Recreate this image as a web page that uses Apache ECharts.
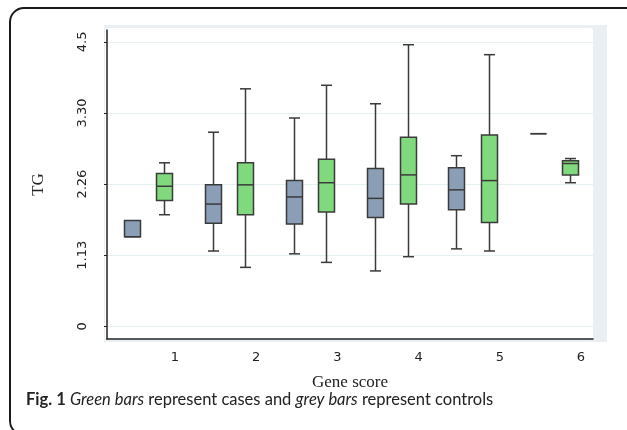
<!DOCTYPE html>
<html>
<head>
<meta charset="utf-8">
<script src="https://cdn.jsdelivr.net/npm/echarts@6/dist/echarts.min.js"></script>
<style>
html,body{margin:0;padding:0;background:#fff;}
#c{width:627px;height:430px;}
</style>
</head>
<body>
<div id="c"></div>
<script>
// Gene score categories (x tick labels)
const scores = [1, 2, 3, 4, 5, 6];
// Y axis: equally spaced ticks (positions 0..4) carrying these labels
const yTickPos = [0, 1, 2, 3, 4];
const yTickLabels = ['0', '1.13', '2.26', '3.30', '4.5'];
// Box values in y-axis units: [min, q1, median, q3, max]
const controls = [
  [1.26, 1.26, 1.26, 1.49, 1.49],
  [1.06, 1.45, 1.72, 1.99, 2.73],
  [1.02, 1.44, 1.82, 2.05, 2.93],
  [0.78, 1.53, 1.80, 2.22, 3.13],
  [1.09, 1.64, 1.92, 2.23, 2.40],
  [2.71, 2.71, 2.71, 2.71, 2.71]
];
const cases = [
  [1.57, 1.77, 1.97, 2.15, 2.30],
  [0.83, 1.57, 1.99, 2.30, 3.34],
  [0.90, 1.61, 2.02, 2.35, 3.39],
  [0.98, 1.72, 2.13, 2.66, 3.96],
  [1.06, 1.46, 2.05, 2.69, 3.82],
  [2.02, 2.13, 2.29, 2.33, 2.36]
];

const GREY_OFF = -0.535, GREEN_OFF = -0.135;
const BOX_W = 16, CAP_W = 11, STROKE = '#3a3a3a';

function boxData(arr, off) {
  return arr.map((v, i) => [scores[i] + off].concat(v));
}

function renderBox(params, api) {
  const x = api.value(0);
  const pMin = api.coord([x, api.value(1)]);
  const pQ1 = api.coord([x, api.value(2)]);
  const pMed = api.coord([x, api.value(3)]);
  const pQ3 = api.coord([x, api.value(4)]);
  const pMax = api.coord([x, api.value(5)]);
  const cx = Math.round(pMed[0]) + 0.5;
  const fill = api.visual('color');
  const ls = {stroke: STROKE, lineWidth: 1.5};
  const ch = [];
  if (pMax[1] < pQ3[1] - 0.5) {
    ch.push({type: 'line', shape: {x1: cx, y1: pMax[1], x2: cx, y2: pQ3[1]}, style: ls});
    ch.push({type: 'line', shape: {x1: cx - CAP_W / 2, y1: pMax[1], x2: cx + CAP_W / 2, y2: pMax[1]}, style: ls});
  }
  if (pMin[1] > pQ1[1] + 0.5) {
    ch.push({type: 'line', shape: {x1: cx, y1: pQ1[1], x2: cx, y2: pMin[1]}, style: ls});
    ch.push({type: 'line', shape: {x1: cx - CAP_W / 2, y1: pMin[1], x2: cx + CAP_W / 2, y2: pMin[1]}, style: ls});
  }
  ch.push({type: 'rect', shape: {x: cx - BOX_W / 2, y: pQ3[1], width: BOX_W, height: pQ1[1] - pQ3[1]},
    style: {fill: fill, stroke: STROKE, lineWidth: 1.5}});
  ch.push({type: 'line', shape: {x1: cx - BOX_W / 2, y1: pMed[1], x2: cx + BOX_W / 2, y2: pMed[1]}, style: ls});
  return {type: 'group', children: ch};
}

const chart = echarts.init(document.getElementById('c'), null, {renderer: 'canvas'});
chart.setOption({
  animation: false,
  backgroundColor: '#ffffff',
  grid: {left: 107, right: 34, top: 30, bottom: 91},
  xAxis: {
    type: 'value', min: 0.163, max: 6.148,
    name: 'Gene score', nameLocation: 'middle', nameGap: 35,
    nameTextStyle: {fontFamily: 'Liberation Serif', fontSize: 17, color: '#222'},
    axisLine: {show: true, onZero: false, lineStyle: {color: '#222', width: 1.5}},
    axisTick: {show: false},
    splitLine: {show: false},
    axisLabel: {customValues: scores, margin: 12, fontFamily: 'DejaVu Sans', fontSize: 13, color: '#222'}
  },
  yAxis: {
    type: 'value', min: -0.177, max: 4.167,
    name: 'TG', nameLocation: 'middle', nameGap: 60, nameRotate: 90,
    nameTextStyle: {fontFamily: 'Liberation Serif', fontSize: 17, color: '#222'},
    axisLine: {show: true, onZero: false, lineStyle: {color: '#222', width: 1.5}},
    axisTick: {show: true, customValues: yTickPos, length: 3, lineStyle: {color: '#222'}},
    splitLine: {show: true, lineStyle: {color: '#e6eff1', width: 1}},
    axisLabel: {customValues: yTickPos, rotate: 90, margin: 18, fontFamily: 'DejaVu Sans', fontSize: 13, color: '#222',
      formatter: v => yTickLabels[yTickPos.indexOf(Math.round(v))] || ''}
  },
  graphic: [
    {type: 'rect', z: -100, shape: {x: 10, y: 8, width: 700, height: 427, r: 14},
      style: {fill: '#fff', stroke: '#1a1a1a', lineWidth: 2}},
    {type: 'rect', z: -90, shape: {x: 104, y: 25, width: 503, height: 317},
      style: {fill: '#e9eff2'}},
    {type: 'rect', z: -80, shape: {x: 105, y: 28, width: 488, height: 312, r: 3},
      style: {fill: '#ffffff'}},
    {type: 'text', left: 26, top: 391, z: 10,
      style: {
        text: '{b|Fig. 1} {i|Green bars} represent cases and {i|grey bars} represent controls',
        fontFamily: 'Lato', fontSize: 16.5, fill: '#222',
        rich: {
          b: {fontFamily: 'Lato', fontSize: 16.5, fontWeight: 'bold', fill: '#222'},
          i: {fontFamily: 'Lato', fontSize: 16.5, fontStyle: 'italic', fill: '#222'}
        }
      }}
  ],
  series: [
    {type: 'custom', name: 'Controls', color: '#8a9fb5', data: boxData(controls, GREY_OFF),
      encode: {x: 0, y: [1, 2, 3, 4, 5]}, renderItem: renderBox, z: 5},
    {type: 'custom', name: 'Cases', color: '#80d97d', data: boxData(cases, GREEN_OFF),
      encode: {x: 0, y: [1, 2, 3, 4, 5]}, renderItem: renderBox, z: 5}
  ]
});
</script>
</body>
</html>
